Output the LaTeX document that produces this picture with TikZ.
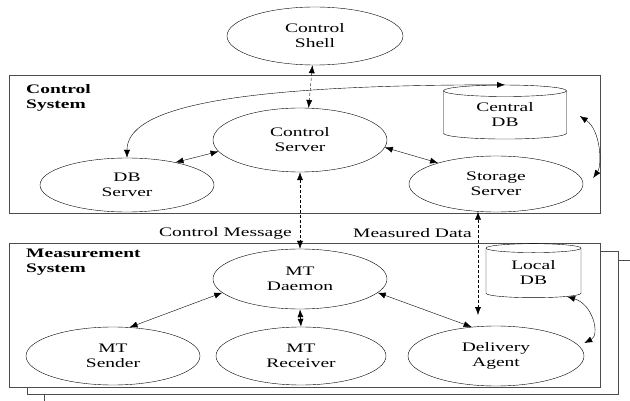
\documentclass[tikz,border=0pt]{standalone}
\usepackage{fontspec}
\newfontfamily\diafont{Liberation Serif}[FakeStretch=1.5]
\usepackage{tikz}
\usetikzlibrary{shapes.geometric,arrows.meta,calc}

\begin{document}
\begin{tikzpicture}[x=1pt,y=-1pt,
  font=\diafont\fontsize{13}{15}\selectfont,
  proc/.style={draw,ellipse,inner sep=0pt,align=center,minimum width=174pt,minimum height=58pt},
  store/.style={draw,cylinder,shape border rotate=90,aspect=0.2,inner sep=0pt,align=center},
  link/.style={{Latex[length=8pt,width=6pt]}-{Latex[length=8pt,width=6pt]}},
  msg/.style={link,dash pattern=on 3pt off 2pt},
  frame/.style={draw=black!70,line width=0.9pt},
  title/.style={font=\diafont\bfseries\fontsize{13}{15}\selectfont,align=left,anchor=north west,inner sep=0pt}]

  \useasboundingbox (0,0) rectangle (630,401);

  \draw[frame] (9,75) rectangle (600,213);
  \draw[frame] (618,260) -- (630,260);
  \draw[frame] (44,394) -- (44,401);
  \draw[frame,fill=white] (27,251) rectangle (618,394);
  \draw[frame,fill=white] (9,243) rectangle (600,387);

  \node[title] (ctitle) at (26,84) {Control\\System};
  \node[title] (mtitle) at (26,249) {Measurement\\System};

  \node[proc,minimum width=176pt] (shell) at (315,36) {Control\\Shell};
  \node[proc,minimum height=64pt] (csrv) at (300,140) {Control\\Server};
  \node[proc,minimum height=54pt] (dbs) at (127,185) {DB\\Server};
  \node[proc,minimum height=56pt] (ssrv) at (496,184) {Storage\\Server};
  \node[store,minimum width=123pt,minimum height=54pt] (cdb) at (505,115) {Central\\DB};

  \node[proc,minimum height=60pt] (mtd) at (300,279) {MT\\Daemon};
  \node[proc] (mts) at (113,356) {MT\\Sender};
  \node[proc,minimum width=170pt] (mtr) at (301,356) {MT\\Receiver};
  \node[proc,minimum width=176pt,minimum height=60pt] (dag) at (496,356) {Delivery\\Agent};
  \node[store,minimum width=95pt,minimum height=54pt] (ldb) at (533.5,273) {Local\\DB};

  \node[anchor=east,inner sep=0pt] (cmsg) at (292,233) {Control Message};
  \node[anchor=east,inner sep=0pt] (mdata) at (472,233) {Measured Data};
  \coordinate (md) at (478,315);

  \draw[msg] (shell.265) -- (csrv.75);
  \draw[link] (dbs.north) .. controls +(0,-48) and +(-285,0) .. (cdb.north);
  \draw[link] (dbs.25) -- (csrv.188);
  \draw[link] (csrv.355) -- (ssrv.160);
  \draw[link] ($(cdb.east)+(13,1)$) .. controls +(21,14) and +(9,-13) .. ($(ssrv.east)+(10,-6)$);

  \draw[msg] (csrv.south) -- (mtd.north);
  \draw[msg] (ssrv.240 -| md) -- (md);

  \draw[link] (mtd.190) -- (mts.60);
  \draw[link,thick] (mtd.south) -- (mtr.north);
  \draw[link] (mtd.350) -- (dag.130);
  \draw[link] (ldb.-35) .. controls +(26,8) and +(16,-8) .. ($(dag.east)+(0,-13)$);

\end{tikzpicture}
\end{document}
